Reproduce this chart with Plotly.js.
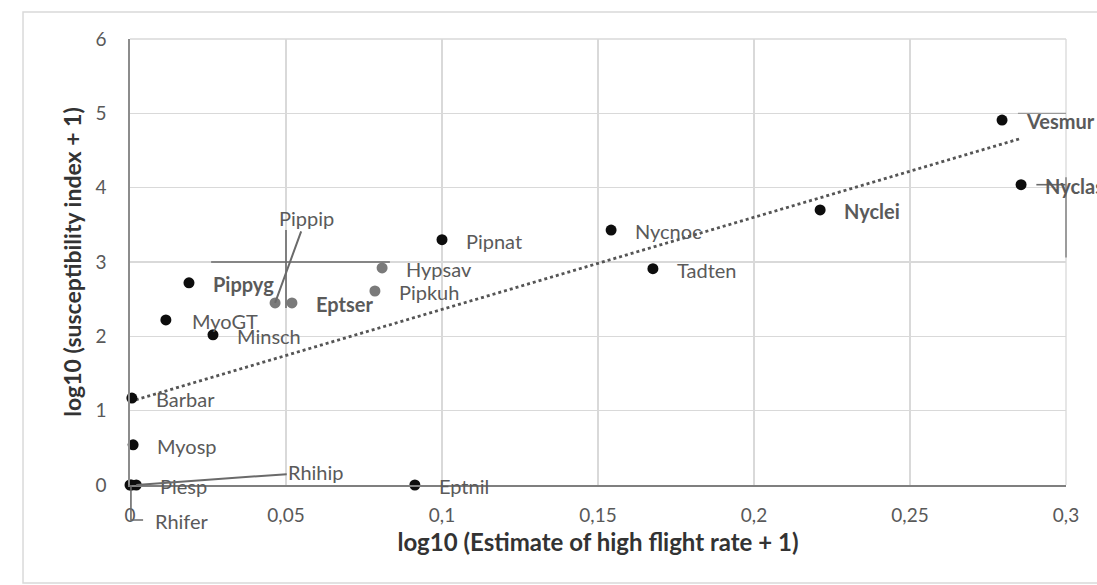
<!DOCTYPE html>
<html>
<head>
<meta charset="utf-8">
<script src="https://cdn.plot.ly/plotly-3.0.1.min.js"></script>
<style>html,body{margin:0;padding:0;background:#fff;}#chart{width:1097px;height:585px;}</style>
</head>
<body>
<div id="chart"></div>
<script>
// ---- data ----
const species = ['Vesmur','Nyclas','Nyclei','Nycnoc','Tadten','Pipnat','Hypsav','Pipkuh','Eptser','Pippip','Pippyg','MyoGT','Minsch','Barbar','Myosp','Plesp','Rhihip','Rhifer','Eptnil'];
const flightRate = [0.2795,0.2856,0.2212,0.1542,0.1676,0.1000,0.0808,0.0785,0.0519,0.0465,0.0189,0.0115,0.0266,0.0006,0.0010,0.0000,0.0020,0.0005,0.0913];
const susceptibility = [4.91,4.04,3.70,3.43,2.91,3.30,2.92,2.61,2.45,2.45,2.72,2.22,2.02,1.17,0.54,0,0,0,0];
const xTickVals = [0,0.05,0.1,0.15,0.2,0.25,0.3];
const xTickText = ['0','0,05','0,1','0,15','0,2','0,25','0,3'];
const yTickVals = [0,1,2,3,4,5,6];
const yTickText = ['0','1','2','3','4','5','6'];

// ---- styles ----
const greySpecies = new Set(['Hypsav','Pipkuh','Eptser','Pippip']);
const boldLabels = new Set(['Vesmur','Nyclas','Nyclei','Pippyg','Eptser']);
const XR = [0,0.3], YR = [0,6];
const FONT = 'Lato, "Open Sans", sans-serif';
const LABEL_COL = '#5a5a5a';

// label pixel offsets (dx, dy) relative to the marker; default is to the right
const labelOffsets = {
  Pippip: {arrow:true, ax:31, ay:-85},
  Rhihip: {arrow:true, ax:180, ay:-13},
  Rhifer: {dx:21, dy:36},
  Plesp: {dx:28, dy:1},
  MyoGT: {dx:24, dy:1}
};

// linear regression trendline computed from the data
const n = flightRate.length;
const mx = flightRate.reduce((a,b)=>a+b,0)/n;
const my = susceptibility.reduce((a,b)=>a+b,0)/n;
let sxy=0, sxx=0;
for (let i=0;i<n;i++){ sxy += (flightRate[i]-mx)*(susceptibility[i]-my); sxx += (flightRate[i]-mx)**2; }
const slope = sxy/sxx, intercept = my - slope*mx;
const xmin = Math.min(...flightRate), xmax = Math.max(...flightRate);

const traces = [
  {
    x: [xmin, xmax], y: [intercept+slope*xmin, intercept+slope*xmax],
    mode: 'lines', line: {color:'#555555', width:2.8, dash:'dot'},
    hoverinfo:'skip', showlegend:false
  },
  {
    x: flightRate, y: susceptibility, text: species,
    mode: 'markers', showlegend:false, cliponaxis:false,
    marker: {size:11, color: species.map(s => greySpecies.has(s) ? '#7a7a7a' : '#0d0d0d')}
  }
];

const annotations = species.map((s,i) => {
  const o = labelOffsets[s] || {dx:22, dy:1};
  const base = {
    x: flightRate[i], y: susceptibility[i], xref:'x', yref:'y', text: s,
    font: {family: FONT, size: 20, color: LABEL_COL, weight: boldLabels.has(s) ? 'bold' : 'normal'}
  };
  if (o.arrow) {
    return Object.assign(base, {showarrow:true, arrowhead:0, arrowwidth:2, arrowcolor:'#6a6a6a',
      ax:o.ax, ay:o.ay, standoff:0, startstandoff:0, xanchor:'center', yanchor:'middle'});
  }
  return Object.assign(base, {showarrow:false, xanchor:'left', yanchor:'middle', xshift:o.dx, yshift:-o.dy});
});

// helpers: data -> paper coordinates (used only for decorations / leader lines)
const px = v => (v - XR[0])/(XR[1]-XR[0]);
const py = v => (v - YR[0])/(YR[1]-YR[0]);
const lineStyle = {color:'#6a6a6a', width:1.6};
const gridStyle = {color:'#d9d9d9', width:1.3};
const shapes = [
  // outer chart border
  {type:'rect', xref:'paper', yref:'paper', x0:-0.1143, x1:1.05, y0:-0.2197, y1:1.0605,
   line:{color:'#d9d9d9', width:1.5}, layer:'below'},
  // top and right grid lines (Plotly skips grid lines on the range ends)
  {type:'line', xref:'paper', yref:'paper', x0:0, x1:1, y0:1, y1:1, line:gridStyle, layer:'below'},
  {type:'line', xref:'paper', yref:'paper', x0:1, x1:1, y0:0, y1:1, line:gridStyle, layer:'below'},
  // Rhifer L-shaped leader
  {type:'path', xref:'paper', yref:'paper', layer:'above',
   path:`M ${px(0.0003)},${py(0)} L ${px(0.0003)},${py(-0.47)} L ${px(0.0042)},${py(-0.47)}`, line:lineStyle},
  // leader-line remnants around Pippip
  {type:'line', xref:'paper', yref:'paper', x0:px(0.026), x1:px(0.0833), y0:py(3), y1:py(3), line:lineStyle, layer:'above'},
  {type:'line', xref:'paper', yref:'paper', x0:px(0.05), x1:px(0.05), y0:py(2.38), y1:py(3.43), line:lineStyle, layer:'above'},
  // Nyclas leader
  {type:'line', xref:'paper', yref:'paper', x0:px(0.2905), x1:px(0.3), y0:py(4.04), y1:py(4.04), line:lineStyle, layer:'above'},
  {type:'line', xref:'paper', yref:'paper', x0:px(0.3), x1:px(0.3), y0:py(3.06), y1:py(4.14), line:{color:'#8a8a8a', width:1.6}, layer:'above'},
  // Vesmur leader
  {type:'line', xref:'paper', yref:'paper', x0:px(0.2846), x1:px(0.3), y0:py(5), y1:py(5), line:{color:'#9a9a9a', width:1.4}, layer:'above'}
];

const layout = {
  width:1097, height:585,
  margin:{l:130, r:31, t:39, b:100},
  paper_bgcolor:'#ffffff', plot_bgcolor:'#ffffff',
  font:{family:FONT, color:'#595959'},
  showlegend:false,
  xaxis:{
    range:XR, tickvals:xTickVals, ticktext:xTickText,
    showgrid:true, gridcolor:'#d9d9d9', gridwidth:1.3, zeroline:false,
    showline:true, linecolor:'#7f7f7f', linewidth:1.6,
    ticks:'', ticklabelstandoff:13,
    tickfont:{family:FONT, size:19, color:'#595959'},
    title:{text:'log10 (Estimate of high flight rate + 1)', standoff:9,
      font:{family:FONT, size:24, color:'#333333', weight:'bold'}}
  },
  yaxis:{
    range:YR, tickvals:yTickVals, ticktext:yTickText,
    showgrid:true, gridcolor:'#d9d9d9', gridwidth:1.3, zeroline:false,
    showline:true, linecolor:'#8c8c8c', linewidth:1.6,
    ticks:'', ticklabelstandoff:18,
    tickfont:{family:FONT, size:19, color:'#595959'},
    title:{text:'log10 (susceptibility index + 1)', standoff:7,
      font:{family:FONT, size:23, color:'#333333', weight:'bold'}}
  },
  annotations: annotations,
  shapes: shapes
};

Plotly.newPlot('chart', traces, layout, {displayModeBar:false, staticPlot:true});
</script>
</body>
</html>
